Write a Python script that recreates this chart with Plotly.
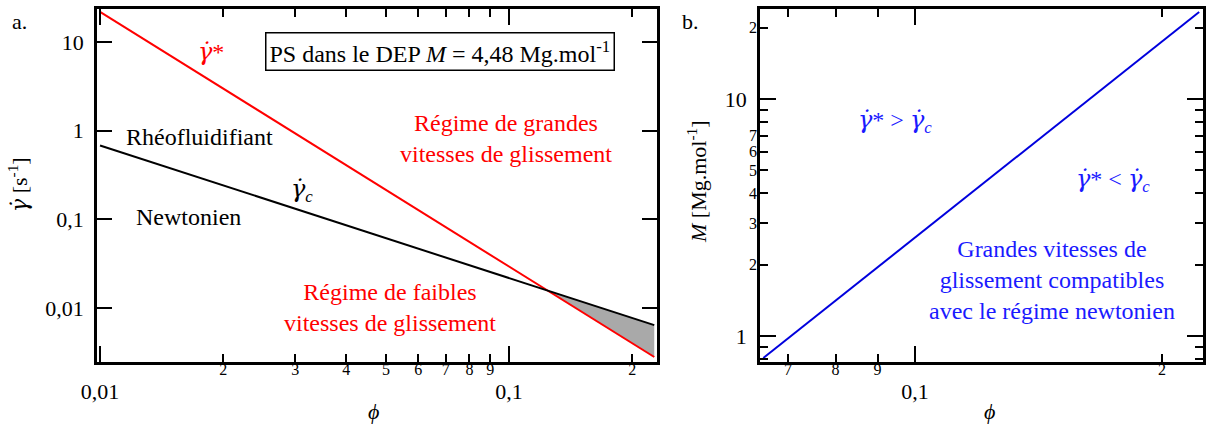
import math
import plotly.graph_objects as go

W, H = 1208, 430
FONT = "Liberation Serif"

# ---------------- data ----------------
# panel a
phi_line = [0.01, 0.2265]
gamma_star = [21.8, 0.0028]      # red line  (γ̇*)
gamma_c = [0.68, 0.0064]         # black line (γ̇c)
phi_shade = [0.124, 0.2265, 0.2265]
gamma_shade = [0.0157, 0.0064, 0.0028]

# panel b
phi_b = [0.0653, 0.222]
M_b = [0.807, 23.3]

# ticks
ax_major_vals = [0.01, 0.1]
ax_major_text = ["0,01", "0,1"]
ax_minor_vals = [0.02, 0.03, 0.04, 0.05, 0.06, 0.07, 0.08, 0.09, 0.2]
ax_minor_text = ["2", "3", "4", "5", "6", "7", "8", "9", "2"]
ay_major_vals = [0.01, 0.1, 1, 10]
ay_major_text = ["0,01", "0,1", "1", "10"]

bx_major_vals = [0.1]
bx_major_text = ["0,1"]
bx_minor_vals = [0.07, 0.08, 0.09, 0.2]
bx_minor_text = ["7", "8", "9", "2"]
by_major_vals = [1, 10]
by_major_text = ["1", "10"]
by_minor_vals = [2, 3, 4, 5, 6, 7, 20]
by_minor_text = ["2", "3", "4", "5", "6", "7", "2"]
by_unlabeled_vals = [0.8, 0.9, 8, 9]


def px(x):
    return x / W


def py(y):
    return 1 - y / H


L = math.log10
fig = go.Figure()

fig.add_trace(go.Scatter(x=phi_shade, y=gamma_shade, fill="toself", mode="lines",
                         fillcolor="#a9a9a9", line=dict(width=0), xaxis="x", yaxis="y",
                         showlegend=False, hoverinfo="skip"))
fig.add_trace(go.Scatter(x=phi_line, y=gamma_star, mode="lines",
                         line=dict(color="#ff0000", width=2), xaxis="x", yaxis="y", showlegend=False))
fig.add_trace(go.Scatter(x=phi_line, y=gamma_c, mode="lines",
                         line=dict(color="#000000", width=2), xaxis="x", yaxis="y", showlegend=False))
fig.add_trace(go.Scatter(x=phi_b, y=M_b, mode="lines",
                         line=dict(color="#0000dd", width=2), xaxis="x2", yaxis="y2", showlegend=False))
# invisible traces so overlay axes render
fig.add_trace(go.Scatter(x=[0.05], y=[1], mode="markers", marker=dict(opacity=0),
                         xaxis="x3", yaxis="y", showlegend=False, hoverinfo="skip"))
fig.add_trace(go.Scatter(x=[0.1], y=[5], mode="markers", marker=dict(opacity=0),
                         xaxis="x4", yaxis="y4", showlegend=False, hoverinfo="skip"))

dom_a = [px(97), px(657)]
dom_b = [px(760), px(1203)]
dom_y = [py(362), py(9)]

common = dict(type="log", showgrid=False, zeroline=False, showline=True, linecolor="black",
              linewidth=2.5, ticks="inside", tickcolor="black", tickwidth=2, mirror="ticks")

major_font = dict(family=FONT, size=22, color="black")
minor_font = dict(family=FONT, size=16, color="black")

xr_a = [L(0.00983), L(0.23)]
yr_a = [L(0.00246), L(23.5)]
xr_b = [L(0.0647), L(0.2244)]
yr_b = [L(0.776), L(24)]

fig.update_layout(
    xaxis=dict(**common, domain=dom_a, range=xr_a, anchor="y", tickmode="array",
               tickvals=ax_major_vals, ticktext=ax_major_text, ticklen=16,
               tickfont=major_font, ticklabelstandoff=8),
    xaxis3=dict(**common, overlaying="x", range=xr_a, anchor="y", tickmode="array",
                tickvals=ax_minor_vals, ticktext=ax_minor_text, ticklen=8,
                tickfont=minor_font, ticklabelstandoff=-9),
    yaxis=dict(**common, domain=dom_y, range=yr_a, anchor="x", tickmode="array",
               tickvals=ay_major_vals, ticktext=ay_major_text, ticklen=15,
               tickfont=major_font, ticklabelstandoff=6),
    xaxis2=dict(**common, domain=dom_b, range=xr_b, anchor="y2", tickmode="array",
                tickvals=bx_major_vals, ticktext=bx_major_text, ticklen=16,
                tickfont=major_font, ticklabelstandoff=8),
    xaxis4=dict(**common, overlaying="x2", range=xr_b, anchor="y2", tickmode="array",
                tickvals=bx_minor_vals, ticktext=bx_minor_text, ticklen=8,
                tickfont=minor_font, ticklabelstandoff=-9),
    yaxis2=dict(**common, domain=dom_y, range=yr_b, anchor="x2", tickmode="array",
                tickvals=by_major_vals, ticktext=by_major_text, ticklen=16,
                tickfont=major_font, ticklabelstandoff=6),
    yaxis4=dict(**common, overlaying="y2", range=yr_b, anchor="x2", tickmode="array",
                tickvals=by_minor_vals, ticktext=by_minor_text, ticklen=8,
                tickfont=minor_font, ticklabelstandoff=-3,
                minor=dict(tickmode="array", tickvals=by_unlabeled_vals, ticks="inside",
                           ticklen=8, tickwidth=2, tickcolor="black", showgrid=False)),
)

BLACK = "black"
RED = "#ff0000"
BLUE = "#1a1aff"


def ann(x, y, text, color=BLACK, size=24, angle=0, **kw):
    fig.add_annotation(x=px(x), y=py(y), xref="paper", yref="paper", text=text,
                       showarrow=False, textangle=angle, xanchor="center", yanchor="middle",
                       font=dict(family=FONT, size=size, color=color), **kw)


GD = '<span style="font-family:DejaVu Serif">γ\u0307</span>'
# panel labels and axis titles
ann(19, 22, "a.", size=22)
ann(691, 22, "b.", size=22)
ann(18, 185, f"<i>{GD}</i> [s<sup>-1</sup>]", angle=-90, size=22)
ann(697, 182, "<i>M</i> [Mg.mol<sup>-1</sup>]", angle=-90, size=22)
ann(373, 411, "<i>ϕ</i>", size=22)
ann(989, 411, "<i>ϕ</i>", size=22)

# panel a texts
ann(211, 52, f"<i>{GD}</i>*", color=RED)
ann(440, 52, "PS dans le DEP <i>M</i> = 4,48 Mg.mol<sup>-1</sup>", size=24,
    bordercolor="black", borderwidth=1.5, borderpad=3, bgcolor="white")
ann(506, 138, "Régime de grandes<br>vitesses de glissement", color=RED)
ann(199, 137, "Rhéofluidifiant")
ann(302, 190, f"<i>{GD}<sub>c</sub></i>")
ann(188, 217, "Newtonien")
ann(390, 307, "Régime de faibles<br>vitesses de glissement", color=RED)

# panel b texts
ann(895, 121, f"<i>{GD}</i>* &gt; <i>{GD}<sub>c</sub></i>", color=BLUE)
ann(1113, 180, f"<i>{GD}</i>* &lt; <i>{GD}<sub>c</sub></i>", color=BLUE)
ann(1052, 280, "Grandes vitesses de<br>glissement compatibles<br>avec le régime newtonien", color=BLUE)

fig.update_layout(width=W, height=H, template="none", paper_bgcolor="white",
                  plot_bgcolor="white", margin=dict(l=0, r=0, t=0, b=0, pad=0),
                  font=dict(family=FONT, size=22, color="black"), showlegend=False)

fig.write_html("out.html", config={"displayModeBar": False},
               post_script="document.body.style.margin='0';document.body.style.padding='0';")
